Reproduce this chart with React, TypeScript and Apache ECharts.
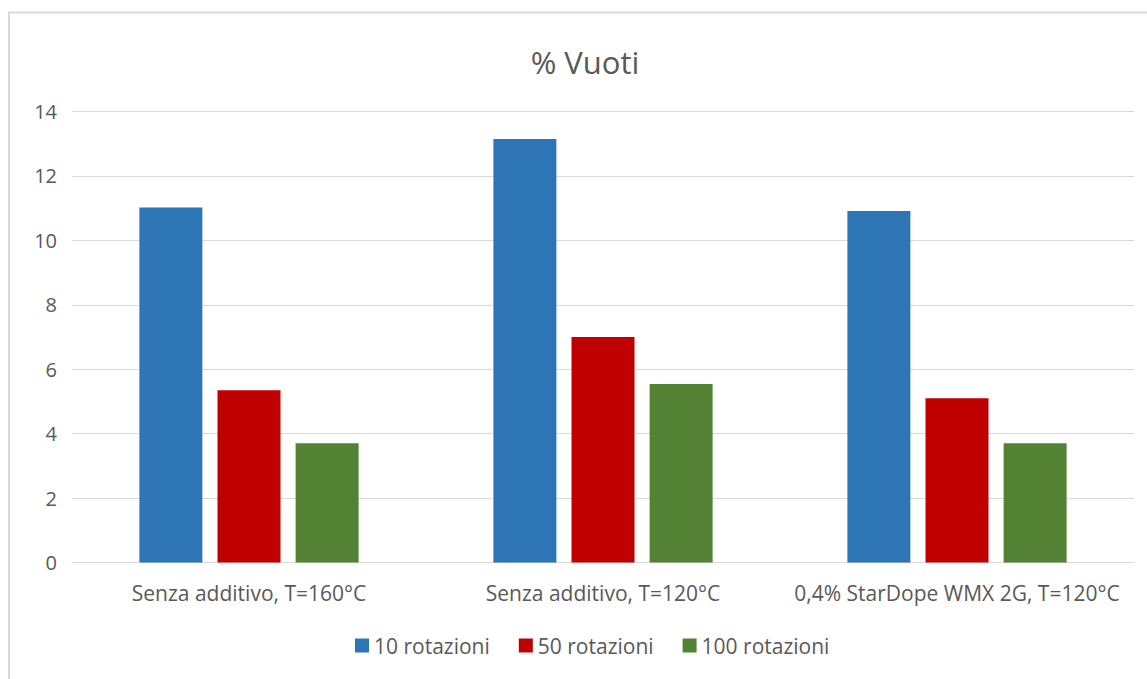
import React, { useEffect, useRef } from "react";
import * as echarts from "echarts";

const categories = [
  "Senza additivo, T=160°C",
  "Senza additivo, T=120°C",
  "0,4% StarDope WMX 2G, T=120°C",
];
const seriesNames = ["10 rotazioni", "50 rotazioni", "100 rotazioni"];
const rot10 = [11.02, 13.15, 10.91];
const rot50 = [5.35, 7.0, 5.1];
const rot100 = [3.7, 5.54, 3.7];
const colors = ["#2E75B6", "#C00000", "#548235"];
const yTicks = { min: 0, max: 14, interval: 2 };

const FONT = "Open Sans";
const TEXT = "#595959";

export default function App() {
  const ref = useRef<HTMLDivElement>(null);
  useEffect(() => {
    if (!ref.current) return;
    const chart = echarts.init(ref.current, undefined, { renderer: "svg" });
    const data = [rot10, rot50, rot100];
    chart.setOption({
      animation: false,
      backgroundColor: "#ffffff",
      title: {
        text: "% Vuoti",
        left: 580,
        top: 41,
        textAlign: "center",
        textStyle: { fontFamily: FONT, fontSize: 31, fontWeight: "normal", color: TEXT },
      },
      graphic: [
        {
          type: "polyline",
          shape: { points: [[9, 700], [9, 12.5], [1200, 12.5]] },
          style: { stroke: "#d9d9d9", lineWidth: 2, fill: null },
          silent: true,
        },
      ],
      legend: {
        data: seriesNames,
        top: 630,
        left: 350,
        itemWidth: 14,
        itemHeight: 14,
        itemGap: 29,
        icon: "rect",
        textStyle: { fontFamily: FONT, fontSize: 21, color: TEXT },
      },
      grid: { left: 72, right: 13, top: 111.5, bottom: 116.5, containLabel: false },
      xAxis: {
        type: "category",
        data: categories,
        axisLine: { lineStyle: { color: "#d9d9d9", width: 1 } },
        axisTick: { show: false },
        axisLabel: { fontFamily: FONT, fontSize: 21, color: TEXT, margin: 20, interval: 0 },
      },
      yAxis: {
        type: "value",
        min: yTicks.min,
        max: yTicks.max,
        interval: yTicks.interval,
        axisLine: { show: false },
        axisTick: { show: false },
        splitLine: { lineStyle: { color: "#d9d9d9", width: 1 } },
        axisLabel: { fontFamily: FONT, fontSize: 20, color: TEXT, margin: 15 },
      },
      series: seriesNames.map((name, i) => ({
        name,
        type: "bar",
        data: data[i],
        barWidth: 63,
        barGap: "24%",
        itemStyle: { color: colors[i] },
      })),
    });
    return () => chart.dispose();
  }, []);
  return (
    <div
      ref={ref}
      style={{ position: "fixed", left: 0, top: 0, width: 1147, height: 679 }}
    />
  );
}
